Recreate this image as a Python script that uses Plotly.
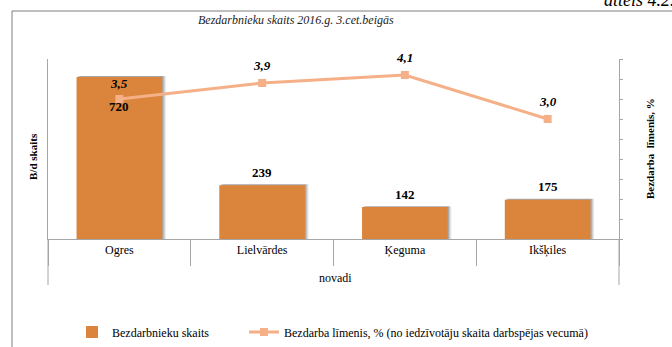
import plotly.graph_objects as go

# Unemployment by municipality, end of Q3 2016
novadi = ["Ogres", "Lielvārdes", "Ķeguma", "Ikšķiles"]
bezdarbnieku_skaits = [720, 239, 142, 175]
bezdarba_limenis = [3.5, 3.9, 4.1, 3.0]

bar_color = "#DB843B"
line_color = "#F5B088"
axis_color = "#A6A6A6"
serif = "Liberation Serif, Times New Roman, serif"

fig = go.Figure()

# soft shadow behind the bars
for dx, alpha in [(0.026, 0.09), (0.017, 0.13), (0.009, 0.17)]:
    fig.add_trace(go.Bar(
        x=novadi, y=[v + 4 for v in bezdarbnieku_skaits],
        width=0.6, offset=-0.3 + dx, marker_color=f"rgba(0,0,0,{alpha})",
        marker_line_width=0, showlegend=False, hoverinfo="skip",
    ))

fig.add_trace(go.Bar(
    x=novadi, y=bezdarbnieku_skaits,
    name="Bezdarbnieku skaits" + "\u00a0" * 10,
    width=0.6, offset=-0.3, marker_color=bar_color, marker_line_width=0,
))

fig.add_trace(go.Scatter(
    x=novadi, y=bezdarba_limenis, yaxis="y2", mode="lines+markers",
    name="Bezdarba līmenis, % (no iedzīvotāju skaita darbspējas vecumā)",
    line=dict(color=line_color, width=3),
    marker=dict(symbol="square", size=8, color=line_color),
))

annotations = []
# bar value labels
for i, (cat, v) in enumerate(zip(novadi, bezdarbnieku_skaits)):
    annotations.append(dict(
        x=cat, y=v, xref="x", yref="y", text=f"<b>{v}</b>", showarrow=False,
        yshift=-29 if i == 0 else 13,
        font=dict(family=serif, size=13, color="#000000"),
    ))
# rate labels
for i, (cat, v) in enumerate(zip(novadi, bezdarba_limenis)):
    annotations.append(dict(
        x=cat, y=v, xref="x", yref="y2", text=f"<b><i>{v:.1f}</i></b>".replace(".", ","),
        showarrow=False, yshift=16 if i == 0 else 18,
        font=dict(family=serif, size=13, color="#000000"),
    ))

# free-standing labels, positioned in page pixels
free_labels = [
    ("<i>Bezdarbnieku skaits 2016.g. 3.cet.beigās</i>", 296, 20, 0, 12, "#222222"),
    ("<b>B/d skaits</b>", 33, 157, -90, 11, "#000000"),
    ("<b>Bezdarba  līmenis, %</b>", 650, 149, -90, 11, "#000000"),
    ("novadi", 335, 278, 0, 12, "#000000"),
    ("<i>attēls 4.2.</i>", 640, 0, 0, 18, "#000000"),
]
for text, px, py, ang, size, col in free_labels:
    annotations.append(dict(
        text=text, textangle=ang, showarrow=False,
        xref="paper", yref="paper",
        x=(px - 48) / (619 - 48), y=(239 - py) / (239 - 59),
        xanchor="center", yanchor="middle",
        font=dict(family=serif, size=size, color=col),
    ))

def px_x(px):
    return (px - 48) / (619 - 48)

def px_y(py):
    return (239 - py) / (239 - 59)

fig.update_layout(
    width=672, height=347,
    margin=dict(l=48, r=53, t=59, b=108),
    paper_bgcolor="white", plot_bgcolor="white",
    barmode="overlay",
    showlegend=True,
    legend=dict(
        orientation="h", xref="container", yref="container",
        x=72 / 672, y=(347 - 332) / 347, xanchor="left", yanchor="middle",
        font=dict(family=serif, size=12, color="#000000"),
        itemwidth=30, traceorder="normal",
    ),
    xaxis=dict(
        type="category", showline=True, linecolor=axis_color, linewidth=1,
        tickson="boundaries", ticks="outside", ticklen=26, tickcolor=axis_color,
        showgrid=False, tickfont=dict(family=serif, size=12, color="#000000"),
        range=[-0.5, 3.5],
    ),
    yaxis=dict(
        range=[0, 800], showline=True, linecolor=axis_color, linewidth=1,
        showticklabels=False, showgrid=False, zeroline=False, ticks="",
    ),
    yaxis2=dict(
        range=[0, 4.5], dtick=0.5, overlaying="y", side="right",
        showline=True, linecolor=axis_color, linewidth=1,
        ticks="outside", ticklen=3, tickcolor=axis_color,
        showticklabels=False, showgrid=False, zeroline=False,
    ),
    annotations=annotations,
    shapes=[
        # outer frame (right and bottom edges sit outside the page)
        dict(type="rect", xref="paper", yref="paper",
             x0=px_x(12), x1=px_x(700), y0=px_y(360), y1=px_y(11),
             line=dict(color="#7F7F7F", width=1), layer="below"),
        # outer axis lines continue below the category axis
        dict(type="line", xref="paper", yref="paper",
             x0=0, x1=0, y0=0, y1=px_y(285),
             line=dict(color=axis_color, width=1)),
        dict(type="line", xref="paper", yref="paper",
             x0=1, x1=1, y0=0, y1=px_y(285),
             line=dict(color=axis_color, width=1)),
    ],
)

fig.write_html("out.html")
